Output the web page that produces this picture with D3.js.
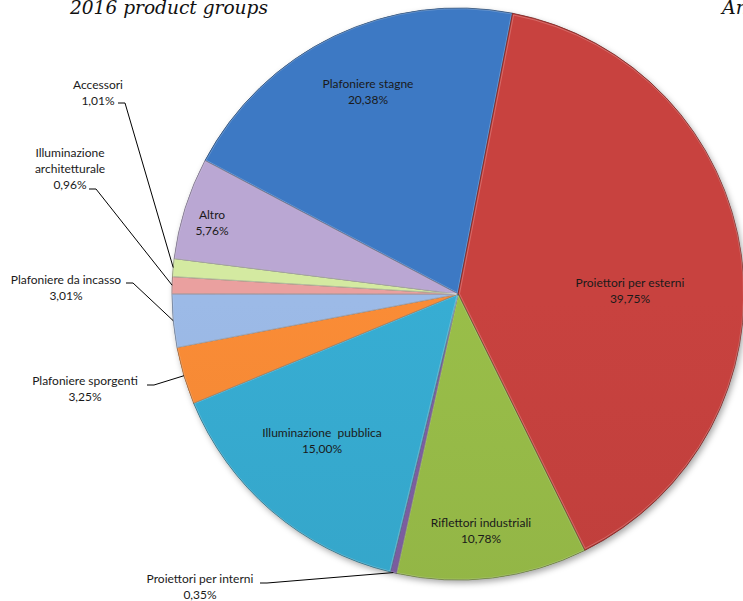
<!DOCTYPE html>
<html>
<head>
<meta charset="utf-8">
<script src="https://cdn.jsdelivr.net/npm/d3@7"></script>
<style>
  html, body { margin: 0; padding: 0; background: #ffffff; }
  svg { display: block; }
</style>
</head>
<body>
<svg id="chart" width="743" height="601"></svg>
<script>
// ---- data ----
const categories = ["Plafoniere stagne", "Proiettori per esterni", "Riflettori industriali",
  "Proiettori per interni", "Illuminazione pubblica", "Plafoniere sporgenti",
  "Plafoniere da incasso", "Illuminazione architetturale", "Accessori", "Altro"];
const values = [20.38, 39.75, 10.78, 0.35, 15.00, 3.25, 3.01, 0.96, 1.01, 5.76];
const colors = ["#3a74bc", "#c03f3c", "#93b646", "#7a5c9e", "#35a6ca", "#f08634",
  "#95b2dd", "#e09998", "#cbe09a", "#b2a0ca"];
const titleText = "2016 product groups";
const rightTitleText = "An";

// ---- layout ----
const W = 743, H = 601;
const cx = 458, cy = 294, R = 286;
const startDeg = -62.2;
const labelLayout = [
  { inside: true, x: 368, y: 88 },
  { inside: true, x: 630, y: 287 },
  { inside: true, x: 481, y: 527 },
  { inside: false, x: 200, y: 583, lines: ["Proiettori per interni"], lx: 260, ly: 583 },
  { inside: true, x: 322, y: 437, lines: ["Illuminazione  pubblica"] },
  { inside: false, x: 85, y: 385, lx: 147, ly: 385 },
  { inside: false, x: 66, y: 284, lx: 126, ly: 283 },
  { inside: false, x: 70, y: 157, lines: ["Illuminazione", "architetturale"], lx: 89, ly: 189 },
  { inside: false, x: 98, y: 89, lx: 118, ly: 103 },
  { inside: true, x: 212, y: 219 }
];
const lineH = 16;

const locale = d3.formatLocale({ decimal: ",", thousands: ".", grouping: [3], currency: ["", "€"] });
const fmt = v => locale.format(".2f")(v) + "%";

const svg = d3.select("#chart");
const defs = svg.append("defs");

const shadow = defs.append("filter").attr("id", "shadow")
  .attr("x", "-10%").attr("y", "-10%").attr("width", "120%").attr("height", "120%");
shadow.append("feDropShadow").attr("dx", 2).attr("dy", 3).attr("stdDeviation", 3)
  .attr("flood-color", "#000").attr("flood-opacity", 0.35);

colors.forEach((c, i) => {
  const g = defs.append("linearGradient").attr("id", "grad" + i)
    .attr("gradientUnits", "userSpaceOnUse")
    .attr("x1", 0).attr("y1", cy - R).attr("x2", 0).attr("y2", cy + R);
  g.append("stop").attr("offset", "0%").attr("stop-color", d3.color(c).brighter(0.12));
  g.append("stop").attr("offset", "50%").attr("stop-color", d3.color(c));
  g.append("stop").attr("offset", "100%").attr("stop-color", d3.color(c).darker(0.5));
});

const pie = d3.pie().sort(null).value(d => d)
  .startAngle(startDeg * Math.PI / 180)
  .endAngle(startDeg * Math.PI / 180 + 2 * Math.PI);
const arcs = pie(values);
const arc = d3.arc().innerRadius(0).outerRadius(R);

const gPie = svg.append("g").attr("transform", `translate(${cx},${cy})`);
gPie.append("g").attr("filter", "url(#shadow)")
  .selectAll("path").data(arcs).join("path")
  .attr("d", arc)
  .attr("fill", "#888");

const slices = gPie.append("g");
slices.selectAll("path").data(arcs).join("path")
  .attr("d", arc)
  .attr("fill", (d, i) => `url(#grad${i})`)
  .attr("stroke", (d, i) => d3.color(colors[i]).darker(1.3))
  .attr("stroke-width", 0.8)
  .attr("stroke-linejoin", "round");
const arcIn = d3.arc().innerRadius(0).outerRadius(R - 2);
slices.selectAll("path.hl").data(arcs).join("path").attr("class", "hl")
  .attr("d", arcIn)
  .attr("transform", d => {
    const a = (d.startAngle + d.endAngle) / 2;
    return `translate(${Math.sin(a) * 1.5},${-Math.cos(a) * 1.5})`;
  })
  .attr("fill", "none")
  .attr("stroke", "#ffffff").attr("stroke-opacity", 0.22).attr("stroke-width", 1);

// ---- labels ----
const gLab = svg.append("g")
  .attr("font-family", "Lato, 'Open Sans', sans-serif")
  .attr("font-size", 12)
  .attr("fill", "#1a1a1a")
  .attr("text-anchor", "middle");

arcs.forEach((d, i) => {
  const L = labelLayout[i];
  const lines = (L.lines || [categories[i]]).concat([fmt(values[i])]);
  const t = gLab.append("text").attr("x", L.x).attr("y", L.y);
  lines.forEach((s, k) => {
    t.append("tspan").attr("x", L.x).attr("y", L.y + k * lineH).text(s)
      .style("white-space", "pre");
  });
  if (!L.inside) {
    const a = (d.startAngle + d.endAngle) / 2;
    const px = cx + Math.sin(a) * R, py = cy - Math.cos(a) * R;
    svg.append("path")
      .attr("d", d3.line()([[L.lx, L.ly], [L.lx + 7, L.ly], [px, py]]))
      .attr("fill", "none").attr("stroke", "#000").attr("stroke-width", 1);
  }
});

// ---- titles ----
svg.append("text").attr("x", 70).attr("y", 14)
  .attr("font-family", "'DejaVu Serif', serif").attr("font-style", "italic")
  .attr("font-size", 19).attr("fill", "#111")
  .attr("textLength", 198).attr("lengthAdjust", "spacingAndGlyphs")
  .text(titleText);
svg.append("text").attr("x", 722).attr("y", 14)
  .attr("font-family", "'DejaVu Serif', serif").attr("font-style", "italic")
  .attr("font-size", 19).attr("fill", "#111")
  .text(rightTitleText);
</script>
</body>
</html>
